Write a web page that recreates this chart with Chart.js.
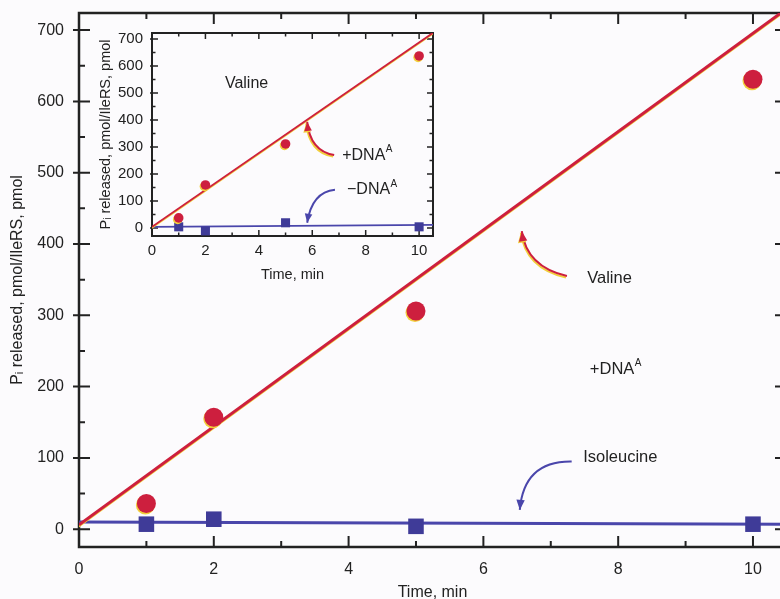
<!DOCTYPE html>
<html>
<head>
<meta charset="utf-8">
<script src="https://cdn.jsdelivr.net/npm/chart.js@4.4.1/dist/chart.umd.min.js"></script>
<style>
  html, body { margin:0; padding:0; background:#fcfbfd; overflow:hidden; }
  #wrap { position:relative; width:800px; height:599px; }
  #mainBox { position:absolute; left:0; top:0; width:800px; height:599px; }
  #insetBox { position:absolute; left:90px; top:25px; width:350px; height:265px; }
</style>
</head>
<body>
<div id="wrap">
  <div id="mainBox"><canvas id="mainChart"></canvas></div>
  <div id="insetBox"><canvas id="insetChart"></canvas></div>
</div>
<script>
// sampled times (min)
const times = [1, 2, 5, 10];

// main panel: Pi released, pmol/IleRS
const valineMain = [36, 157, 306, 631];
const isoleucineMain = [7, 14, 4, 7];
const fitXMain = [0, 10.5];
const valineFitMain = [6, 730];
const isoleucineFitMain = [10, 7];

// inset: valine with / without DNA^A
const valineInset = [37, 159, 311, 637];
const noDnaInset = [4, -11, 19, 4];
const fitXInset = [0, 10.6];
const valineFitInset = [4, 728];
const noDnaFitInset = [4, 11];

// tick labels
const xTickValues = [0, 2, 4, 6, 8, 10];
const yTickValues = [0, 100, 200, 300, 400, 500, 600, 700];

const RED = "#cd1f3e", YEL = "#f2cf3c", BLUE = "#3f3b98", LINEBLUE = "#4a46ab", INK = "#222222";
const FONT = '"Liberation Sans", Arial, Helvetica, sans-serif';

const pts = (xs, ys) => xs.map((v, i) => ({ x: v, y: ys[i] }));

/* frame with inward ticks on all four sides */
const frameTicks = {
  id: "frameTicks",
  beforeDatasetsDraw(chart, args, o) {
    const { ctx, chartArea: a } = chart;
    const x = chart.scales.x, y = chart.scales.y;
    const marks = (scale, step) => {
      const out = [];
      scale.ticks.forEach(t => {
        out.push([t.value, true]);
        const m = t.value + step / 2;
        if (m > scale.min && m < scale.max) out.push([m, false]);
      });
      const first = scale.ticks[0].value - step / 2;
      if (first > scale.min) out.push([first, false]);
      return out;
    };
    ctx.save();
    ctx.strokeStyle = INK;
    ctx.lineWidth = o.frame;
    ctx.strokeRect(a.left, a.top, a.right - a.left, a.bottom - a.top);
    ctx.lineWidth = o.tickWidth;
    ctx.beginPath();
    marks(x, o.xStep).forEach(([v, major]) => {
      const px = x.getPixelForValue(v), len = major ? o.major : o.minor;
      ctx.moveTo(px, a.bottom); ctx.lineTo(px, a.bottom - len);
      ctx.moveTo(px, a.top); ctx.lineTo(px, a.top + len);
    });
    marks(y, o.yStep).forEach(([v, major]) => {
      const py = y.getPixelForValue(v), len = major ? o.major : o.minor;
      ctx.moveTo(a.left - (major ? o.out : 0), py); ctx.lineTo(a.left + len, py);
      ctx.moveTo(a.right, py); ctx.lineTo(a.right - len, py);
    });
    ctx.stroke();
    ctx.restore();
  }
};

/* yellow misregistration edge of the red print */
const misprint = {
  id: "misprint",
  beforeDatasetDraw(chart, { index }) {
    if (chart.data.datasets[index].halo) {
      const c = chart.ctx;
      c.save();
      c.shadowColor = YEL; c.shadowOffsetX = -1; c.shadowOffsetY = 1.5; c.shadowBlur = 0;
    }
  },
  afterDatasetDraw(chart, { index }) {
    if (chart.data.datasets[index].halo) chart.ctx.restore();
  }
};

/* curved arrows and labels, placed in data units */
const notes = {
  id: "notes",
  afterDraw(chart, args, o) {
    const { ctx } = chart;
    const x = chart.scales.x, y = chart.scales.y;
    const P = p => [x.getPixelForValue(p[0]), y.getPixelForValue(p[1])];
    (o.arrows || []).forEach(ar => {
      const [tx, ty] = P(ar.from), [cx, cy] = P(ar.via), [hx, hy] = P(ar.to);
      ctx.save();
      if (ar.halo) { ctx.shadowColor = YEL; ctx.shadowOffsetX = -1; ctx.shadowOffsetY = 1.5; }
      ctx.strokeStyle = ar.color; ctx.fillStyle = ar.color;
      ctx.lineWidth = o.arrowWidth;
      ctx.beginPath(); ctx.moveTo(tx, ty); ctx.quadraticCurveTo(cx, cy, hx, hy); ctx.stroke();
      const ang = Math.atan2(hy - cy, hx - cx), L = o.head, W = o.head * 0.42;
      const bx = hx - L * Math.cos(ang), by = hy - L * Math.sin(ang);
      ctx.beginPath();
      ctx.moveTo(hx, hy);
      ctx.lineTo(bx + W * Math.sin(ang), by - W * Math.cos(ang));
      ctx.lineTo(bx - W * Math.sin(ang), by + W * Math.cos(ang));
      ctx.closePath(); ctx.fill();
      ctx.restore();
    });
    ctx.save();
    ctx.fillStyle = INK; ctx.textBaseline = "middle"; ctx.textAlign = "left";
    (o.labels || []).forEach(l => {
      const [px, py] = P(l.at);
      ctx.font = `${o.size}px ${FONT}`;
      ctx.fillText(l.text, px, py);
      if (l.sup) {
        const w = ctx.measureText(l.text).width;
        ctx.font = `${Math.round(o.size * 0.6)}px ${FONT}`;
        ctx.fillText(l.sup, px + w + 0.5, py - o.size * 0.38);
      }
    });
    ctx.restore();
  }
};

function axes(cfg) {
  const tickFont = { family: FONT, size: cfg.tickSize };
  const titleFont = { family: FONT, size: cfg.titleSize, lineHeight: 1 };
  return {
    x: {
      type: "linear", min: 0, max: cfg.xMax,
      afterBuildTicks: s => { s.ticks = xTickValues.map(v => ({ value: v })); },
      afterFit: s => { s.height = cfg.xHeight; s.paddingLeft = 0; s.paddingRight = 0; },
      grid: { display: false, drawTicks: false }, border: { display: false },
      ticks: { font: tickFont, color: INK, padding: cfg.xPad, maxRotation: 0 },
      title: { display: true, text: "Time, min", font: titleFont, color: INK,
               padding: { top: 0, bottom: cfg.xTitlePad } }
    },
    y: {
      type: "linear", min: cfg.yMin, max: cfg.yMax,
      afterBuildTicks: s => { s.ticks = yTickValues.map(v => ({ value: v })); },
      afterFit: s => { s.width = cfg.yWidth; s.paddingTop = 0; s.paddingBottom = 0; },
      grid: { display: false, drawTicks: false }, border: { display: false },
      ticks: { font: tickFont, color: INK, padding: cfg.yPad },
      title: { display: true, text: "P\u1D62 released, pmol/IleRS, pmol", font: titleFont, color: INK,
               padding: { top: cfg.yTitlePad, bottom: 0 } }
    }
  };
}

function lineSet(data, color, width, halo) {
  return { data, showLine: true, borderColor: color, borderWidth: width,
           pointRadius: 0, pointHoverRadius: 0, halo, order: 2 };
}
function markSet(data, color, style, r, halo) {
  return { data, showLine: false, pointStyle: style, pointRadius: r, pointHoverRadius: r,
           backgroundColor: color, borderColor: color, borderWidth: 0, halo, order: 1, clip: false };
}

new Chart(document.getElementById("mainChart"), {
  type: "scatter",
  data: {
    datasets: [
      lineSet(pts(fitXMain, valineFitMain), RED, 3, true),
      lineSet(pts(fitXMain, isoleucineFitMain), LINEBLUE, 3, false),
      markSet(pts(times, valineMain), RED, "circle", 9.5, true),
      markSet(pts(times, isoleucineMain), BLUE, "rect", 11, false)
    ]
  },
  options: {
    responsive: true, maintainAspectRatio: false, animation: false,
    events: [],
    layout: { padding: { top: 13, right: 14, left: 0, bottom: 0 } },
    scales: axes({ xMax: 10.49, yMin: -25, yMax: 724, tickSize: 16, titleSize: 16,
                   xHeight: 52, yWidth: 79, xPad: 13, yPad: 15, xTitlePad: -2, yTitlePad: 10 }),
    plugins: {
      legend: { display: false }, tooltip: { enabled: false },
      frameTicks: { frame: 2.5, tickWidth: 2, major: 11, minor: 6, out: 6, xStep: 2, yStep: 100 },
      notes: {
        size: 16.5, arrowWidth: 2, head: 10,
        labels: [
          { text: "Valine", at: [7.54, 352] },
          { text: "+DNA", sup: "A", at: [7.58, 224] },
          { text: "Isoleucine", at: [7.48, 101] }
        ],
        arrows: [
          { from: [7.24, 355], via: [6.64, 368], to: [6.57, 418], color: RED, halo: true },
          { from: [7.31, 95], via: [6.6, 96], to: [6.54, 27], color: LINEBLUE }
        ]
      }
    }
  },
  plugins: [frameTicks, misprint, notes]
});

new Chart(document.getElementById("insetChart"), {
  type: "scatter",
  data: {
    datasets: [
      lineSet(pts(fitXInset, valineFitInset), RED, 1.8, true),
      lineSet(pts(fitXInset, noDnaFitInset), LINEBLUE, 1.8, false),
      markSet(pts(times, valineInset), RED, "circle", 4.8, true),
      markSet(pts(times, noDnaInset), BLUE, "rect", 6.4, false)
    ]
  },
  options: {
    responsive: true, maintainAspectRatio: false, animation: false,
    events: [],
    layout: { padding: { top: 8, right: 7, left: 0, bottom: 0 } },
    scales: axes({ xMax: 10.52, yMin: -30, yMax: 722, tickSize: 15, titleSize: 14.5,
                   xHeight: 54, yWidth: 62, xPad: 6, yPad: 9, xTitlePad: 8, yTitlePad: 9 }),
    plugins: {
      legend: { display: false }, tooltip: { enabled: false },
      frameTicks: { frame: 2, tickWidth: 1.5, major: 6, minor: 3.5, out: 2, xStep: 2, yStep: 100 },
      notes: {
        size: 16, arrowWidth: 2, head: 9,
        labels: [
          { text: "Valine", at: [2.73, 533] },
          { text: "+DNA", sup: "A", at: [7.12, 267] },
          { text: "\u2212DNA", sup: "A", at: [7.30, 141] }
        ],
        arrows: [
          { from: [6.82, 270], via: [5.92, 285], to: [5.81, 393], color: RED, halo: true },
          { from: [6.85, 141], via: [5.99, 133], to: [5.81, 19], color: LINEBLUE }
        ]
      }
    }
  },
  plugins: [frameTicks, misprint, notes]
});
</script>
</body>
</html>
